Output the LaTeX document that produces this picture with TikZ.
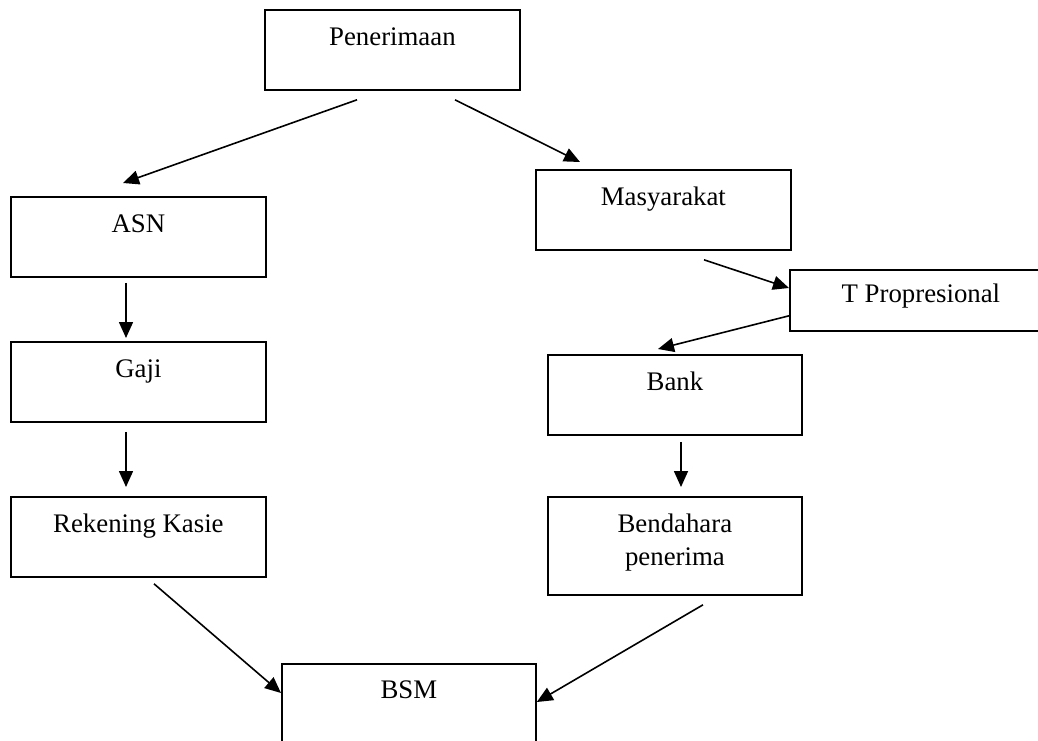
\documentclass[tikz,border=0pt]{standalone}
\usepackage{fontspec}
\setmainfont{Liberation Serif}
\usetikzlibrary{calc, positioning}
\usetikzlibrary{arrows.meta}

\begin{document}
\begin{tikzpicture}[x=0.5pt, y=-0.5pt,
  box/.style={draw, line width=0.9pt, rectangle, anchor=north west, inner xsep=0pt, inner ysep=0pt,
    minimum width=127.5pt, text height=18pt, text depth=22pt, align=center,
    font=\fontsize{13.4}{16.5}\selectfont},
  flow/.style={-{Triangle[length=8pt, width=7pt]}, line width=0.8pt}]
\useasboundingbox (0,0) rectangle (1038,740);

\node[box] (pen) at (264,9) {Penerimaan};
\node[box] (asn) at (10,196) {ASN};
\node[box] (gaji) at (10,341) {Gaji};
\node[box] (rek) at (10,496) {Rekening Kasie};
\node[box] (mas) at (535,169) {Masyarakat};
\node[box, minimum width=131pt, text height=16.5pt, text depth=14pt] (tprop) at (789,269) {T Propresional};
\node[box, minimum width=127pt] (bank) at (547,354) {Bank};
\node[box, minimum width=127pt, text height=34.5pt, text depth=14.5pt] (bend) at (547,496) {Bendahara\\penerima};
\node[box, minimum width=127pt, text height=17.5pt] (bsm) at (281,663) {BSM};

\draw[flow] ($(pen.south west)+(93,9)$) -- ($(asn.north west)+(113,-13)$);
\draw[flow] ($(pen.south west)+(191,9)$) -- ($(mas.north west)+(45,-7)$);
\draw[flow] ($(mas.south west)+(169,9)$) -- ($(tprop.north west)+(0,19)$);
\draw[flow] ($(tprop.south west)+(0,-16)$) -- ($(bank.north west)+(111,-5)$);
\draw[flow] ($(asn.south west)+(116,5)$) -- ($(gaji.north west)+(116,-3)$);
\draw[flow] ($(gaji.south west)+(116,9)$) -- ($(rek.north west)+(116,-9)$);
\draw[flow] ($(bank.south west)+(134,6)$) -- ($(bend.north west)+(134,-9)$);
\draw[flow] ($(rek.south west)+(144,6)$) -- ($(bsm.north west)+(0,30)$);
\draw[flow] ($(bend.south west)+(156,9)$) -- ($(bsm.north east)+(0,39)$);
\end{tikzpicture}
\end{document}
